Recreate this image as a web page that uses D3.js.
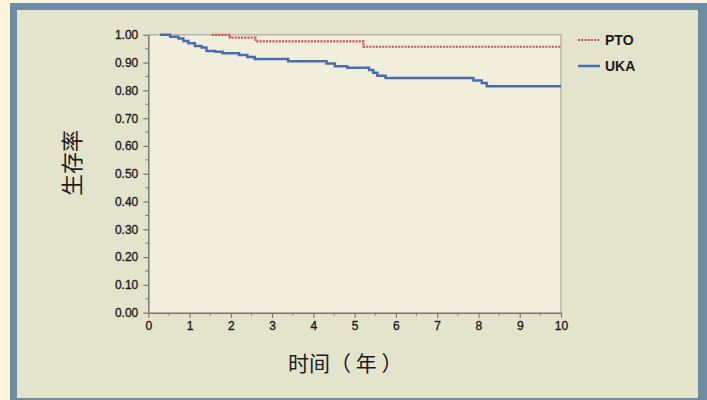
<!DOCTYPE html>
<html>
<head>
<meta charset="utf-8">
<script src="https://cdn.jsdelivr.net/npm/d3@7"></script>
<style>
  body { margin: 0; background: #fdf4dd; }
  svg { display: block; }
  .tick text { font-family: "Liberation Sans", Arial, sans-serif; font-size: 12px; fill: #1c1c1c; stroke: #1c1c1c; stroke-width: 0.35px; }
</style>
</head>
<body>
<div id="chart"></div>
<script>
var width = 707, height = 400;
var plot = { l: 148.3, r: 561, t: 34.8, b: 312.7 };

// Kaplan-Meier steps
const ukaTime = [0.28, 0.53, 0.73, 0.85, 0.97, 1.13, 1.29, 1.41, 1.62, 1.80, 2.20, 2.40, 2.58, 3.39, 4.32, 4.52, 4.82, 5.35, 5.45, 5.55, 5.75, 7.88, 8.08, 8.20, 10];
const ukaSurv = [1.000, 0.993, 0.987, 0.978, 0.970, 0.960, 0.954, 0.942, 0.939, 0.934, 0.927, 0.920, 0.913, 0.905, 0.897, 0.887, 0.881, 0.873, 0.863, 0.853, 0.845, 0.836, 0.827, 0.815, 0.815];
const ptoTime = [1.54, 1.98, 2.60, 5.21, 10];
const ptoSurv = [1.000, 0.990, 0.976, 0.957, 0.957];

const xTicks = [0, 1, 2, 3, 4, 5, 6, 7, 8, 9, 10];
const yTicks = [0, 0.1, 0.2, 0.3, 0.4, 0.5, 0.6, 0.7, 0.8, 0.9, 1.0];
const seriesNames = ["PTO", "UKA"];

const svg = d3.select("#chart").append("svg")
    .attr("width", width)
    .attr("height", height);

//frame + panel
svg.append("rect").attr("x", 10).attr("y", 3).attr("width", 697).attr("height", 397).attr("fill", "#6b8ca2");
svg.append("rect").attr("x", 17).attr("y", 10).attr("width", 681).attr("height", 388).attr("fill", "#e4e3cc");

const x = d3.scaleLinear().domain([0, 10]).range([plot.l, plot.r]);
const y = d3.scaleLinear().domain([0, 1]).range([plot.b, plot.t]);

//plot area
svg.append("rect")
    .attr("x", plot.l).attr("y", plot.t)
    .attr("width", plot.r - plot.l).attr("height", plot.b - plot.t)
    .attr("fill", "#f1eedb");
svg.append("path")
    .attr("d", `M${plot.l},${plot.t}H${plot.r}V${plot.b}`)
    .attr("fill", "none").attr("stroke", "#b8b6a6").attr("stroke-width", 1.5);

//minor ticks
svg.append("g").selectAll("line")
    .data(d3.range(0.05, 1, 0.1))
    .join("line")
    .attr("x1", plot.l - 3).attr("x2", plot.l)
    .attr("y1", d => y(d)).attr("y2", d => y(d))
    .attr("stroke", "#777").attr("stroke-width", 1);
svg.append("g").selectAll("line")
    .data(d3.range(0.5, 10, 1))
    .join("line")
    .attr("x1", d => x(d)).attr("x2", d => x(d))
    .attr("y1", plot.b).attr("y2", plot.b + 3)
    .attr("stroke", "#777").attr("stroke-width", 1);

const yAxis = svg.append("g")
    .attr("transform", `translate(${plot.l},0)`)
    .call(d3.axisLeft(y).tickValues(yTicks).tickFormat(d3.format(".2f")).tickSize(5).tickSizeOuter(0).tickPadding(4));
const xAxis = svg.append("g")
    .attr("transform", `translate(0,${plot.b})`)
    .call(d3.axisBottom(x).tickValues(xTicks).tickFormat(d3.format("d")).tickSize(5).tickSizeOuter(0).tickPadding(4));
[xAxis, yAxis].forEach(a => {
    a.select(".domain").attr("stroke", "#777").attr("stroke-width", 1.5);
    a.selectAll(".tick line").attr("stroke", "#777").attr("stroke-width", 1.2);
});
yAxis.selectAll(".tick text").attr("x", -10);

//curves
const line = d3.line().curve(d3.curveStepAfter).x(d => x(d[0])).y(d => y(d[1]));
svg.append("path")
    .datum(ukaTime.map((t, i) => [t, ukaSurv[i]]))
    .attr("d", line)
    .attr("fill", "none").attr("stroke", "#4a6db0").attr("stroke-width", 2.5);
svg.append("path")
    .datum(ptoTime.map((t, i) => [t, ptoSurv[i]]))
    .attr("d", line)
    .attr("fill", "none").attr("stroke", "#d24b5c").attr("stroke-width", 2.2)
    .attr("stroke-dasharray", "2,1.2");

//legend
const legend = svg.append("g").attr("transform", "translate(578,40)");
seriesNames.forEach((name, i) => {
    const g = legend.append("g").attr("transform", `translate(0,${i * 26})`);
    g.append("line").attr("x1", 0).attr("x2", 22).attr("y1", 0).attr("y2", 0)
        .attr("stroke", name === "PTO" ? "#d24b5c" : "#4a6db0")
        .attr("stroke-width", name === "PTO" ? 2.2 : 2.5)
        .attr("stroke-dasharray", name === "PTO" ? "2,1.2" : null);
    g.append("text").attr("x", 27).attr("y", 5)
        .style("font-family", "'Liberation Sans', Arial, sans-serif")
        .style("font-size", "14px").style("font-weight", "bold")
        .attr("fill", "#1c1c1c")
        .text(name);
});

//axis titles
svg.append("text")
    .attr("transform", "translate(80,163) rotate(-90)")
    .attr("text-anchor", "middle")
    .style("font-family", "'Noto Sans CJK SC', sans-serif")
    .style("font-size", "22px").attr("fill", "#1c1c1c")
    .text("生存率");
svg.append("text")
    .attr("x", 288).attr("y", 371)
    .style("font-family", "'Noto Sans CJK SC', sans-serif")
    .style("font-size", "21px").attr("fill", "#1c1c1c")
    .text("时间（ 年 ）");
</script>
</body>
</html>
